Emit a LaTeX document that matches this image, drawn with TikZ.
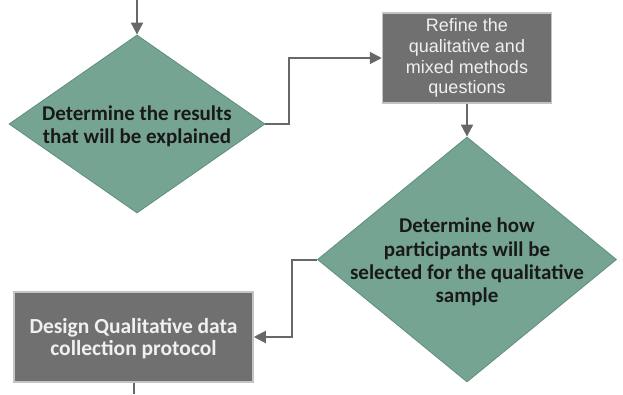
\documentclass[tikz,border=0pt]{standalone}
\usepackage{fontspec}
\setmainfont{Carlito}
\newfontfamily\arialfont{Liberation Sans}
\usetikzlibrary{shapes.geometric,arrows.meta,positioning}

\definecolor{decfill}{HTML}{76A493}
\definecolor{decline}{HTML}{5E8E7D}
\definecolor{boxfill}{HTML}{707070}
\definecolor{boxline}{HTML}{C4C4C4}
\definecolor{flowline}{HTML}{686868}

\begin{document}
\begin{tikzpicture}[x=1pt,y=-1pt,
        >={Triangle[length=12pt,width=12pt]},
        flow/.style = {draw=flowline,line width=2pt},
        decision/.style = {diamond,draw=decline,fill=decfill,line width=.8pt,inner sep=0pt},
        process/.style = {rectangle,draw=boxline,fill=boxfill,line width=1.5pt,inner sep=0pt},
        dectext/.style = {align=center,text=black!90,yshift=-2.5pt,font=\bfseries\fontsize{21}{23.3}\selectfont},
        boxtext/.style = {align=center,text=white!94!black}
        ]

        \useasboundingbox (0,0) rectangle (623,394);

        %Entscheidungen
        \node[decision,minimum width=256pt,minimum height=178pt] (results) at (137,124) {};
        \node[dectext] (resultslbl) at (results) {Determine the results\\that will be explained};
        \node[decision,minimum width=299pt,minimum height=245pt] (sample) at (467,259.5) {};
        \node[dectext] (samplelbl) at (sample) {Determine how\\participants will be\\selected for the qualitative\\sample};

        %Prozessschritte
        \node[process,minimum width=169pt,minimum height=90pt] (refine) at (467,58)
            {};
        \node[boxtext,font=\arialfont\fontsize{18}{20.7}\selectfont] (refinelbl) at (refine)
            {Refine the\\qualitative and\\mixed methods\\questions};
        \node[process,minimum width=239pt,minimum height=90pt] (protocol) at (133.5,337) {};
        \node[boxtext,yshift=-1.5pt,font=\bfseries\fontsize{21.5}{22.5}\selectfont] (protocollbl) at (protocol)
            {Design Qualitative data\\collection protocol};

        %Verbindungen
        \coordinate (in) at (137,0);
        \coordinate (out) at (133.5,394);
        \draw[flow,->] (in) -- (results);
        \draw[flow,->] (results.east) -- ++(24,0) |- (refine.west);
        \draw[flow,->] (refine) -- (sample);
        \draw[flow,->] (sample.west) -- ++(-25,0) |- (protocol.east);
        \draw[flow] (protocol) -- (out);

\end{tikzpicture}
\end{document}
